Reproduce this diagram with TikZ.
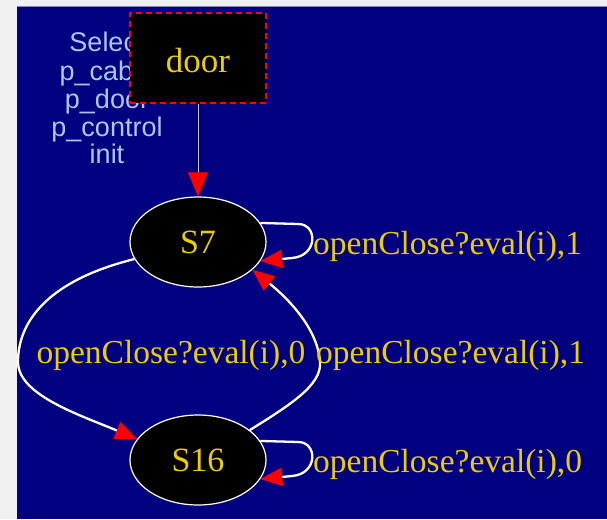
\documentclass[tikz,border=0pt]{standalone}
\usepackage{fontspec}
\setmainfont{Liberation Serif}
\setsansfont{Liberation Sans}
\usetikzlibrary{arrows.meta,shapes.geometric}
\definecolor{navybg}{RGB}{0,0,128}
\definecolor{pagegray}{RGB}{240,240,240}
\definecolor{topline}{RGB}{130,130,190}
\definecolor{lblyellow}{RGB}{235,205,0}
\definecolor{selblue}{RGB}{170,200,240}
\definecolor{tipred}{RGB}{255,0,0}
\definecolor{initgray}{RGB}{200,200,200}
\begin{document}
\begin{tikzpicture}[x=1pt,y=-1pt,
  state/.style={ellipse, draw=white, line width=1.2pt, fill=black, minimum width=136pt,
    minimum height=90pt, inner sep=0pt, text=lblyellow, font=\fontsize{34}{36}\selectfont},
  procbox/.style={rectangle, draw=tipred, dashed, dash pattern=on 6pt off 4pt, line width=1.3pt,
    fill=black, minimum width=136pt, minimum height=90pt, inner sep=0pt, text=lblyellow,
    font=\fontsize{35}{38}\selectfont},
  seltext/.style={anchor=base, text=selblue, inner sep=0pt, font=\sffamily\fontsize{27}{29}\selectfont},
  lbl/.style={inner sep=0pt, text=lblyellow, font=\fontsize{33.5}{36}\selectfont},
  edge/.style={draw=white, line width=2.3pt, -{Triangle[length=22pt,width=18pt,color=tipred]}},
  initedge/.style={draw=initgray, line width=1pt, -{Triangle[length=24pt,width=20pt,color=tipred]}}
]
\useasboundingbox (0,0) rectangle (607,519);
\fill[pagegray] (0,0) rectangle (607,519);
\fill[navybg] (17,7) rectangle (607,519);
\draw[topline, line width=1pt] (17,6.5) -- (607,6.5);

% selection text (partly hidden by the door box)
\node[seltext] (sel1) at (107,52) {Select};
\node[seltext] (sel2) at (107,80) {p\_cabin};
\node[seltext] (sel3) at (107,108) {p\_door};
\node[seltext] (sel4) at (107,136) {p\_control};
\node[seltext] (sel5) at (107,163) {init};

% door process box
\node[procbox] (door) at (198,58) {};
\node[inner sep=0pt, text=lblyellow, font=\fontsize{35}{38}\selectfont, anchor=base] (doorlbl) at (198,72) {door};

% states
\node[state] (S7) at (198,242) {S7};
\node[state] (S16) at (198,460) {S16};

% edges
\draw[initedge] (door.south) -- (S7.north);

\draw[edge] (S7.17) -- (298,224) .. controls (318,224) and (318,256) .. (292,258) -- (S7.-17);
\draw[edge] (S16.17) -- (298,442) .. controls (318,442) and (318,474) .. (292,476) -- (S16.-17);

\draw[edge] (S7.195) .. controls (50,280) and (18,320) .. (18,362)
  .. controls (18,395) and (80,415) .. (S16.161);
\draw[edge] (S16.30) .. controls (290,405) and (322,385) .. (320,362)
  .. controls (318,330) and (290,300) .. (S7.-27);

% labels
\node[lbl, anchor=base west] (l1) at (313,254) {openClose?eval(i),1};
\node[lbl, anchor=base west] (l2) at (316,363) {openClose?eval(i),1};
\node[lbl, anchor=base west] (l3) at (313,472) {openClose?eval(i),0};
\node[lbl, anchor=base] (l4) at (171,363) {openClose?eval(i),0};
\end{tikzpicture}
\end{document}
